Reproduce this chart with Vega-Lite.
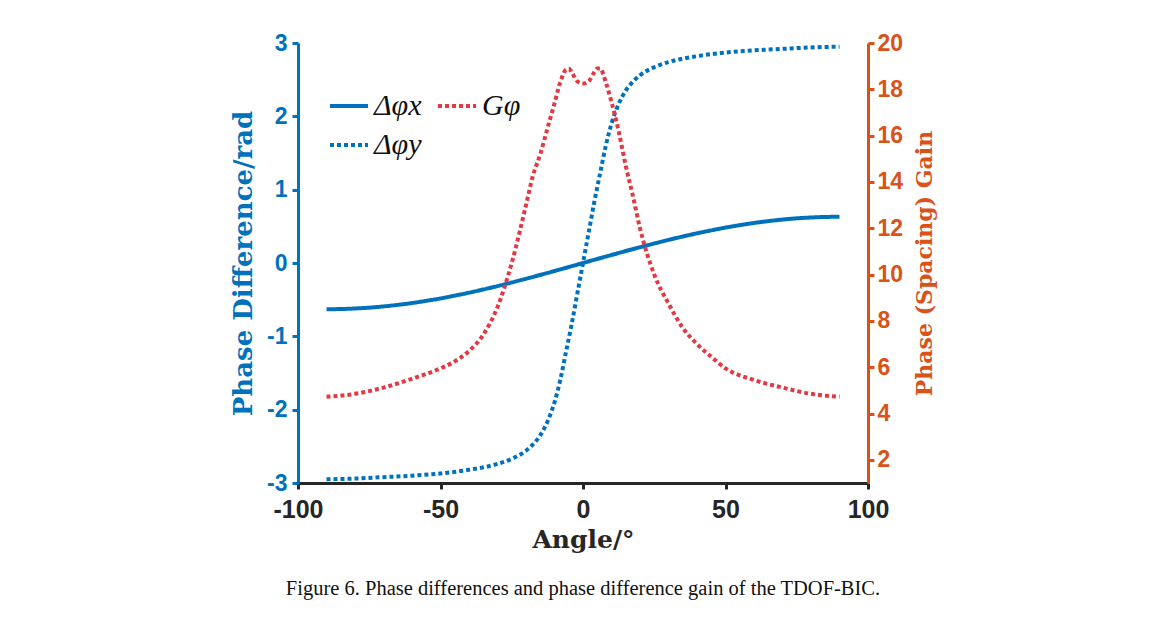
{
  "$schema": "https://vega.github.io/schema/vega-lite/v6.json",
  "width": 570,
  "height": 440,
  "autosize": {"type": "none"},
  "padding": {"left": 298, "top": 43, "right": 299, "bottom": 149},
  "background": "white",
  "title": {
    "text": "Figure 6. Phase differences and phase difference gain of the TDOF-BIC.",
    "orient": "bottom",
    "anchor": "middle",
    "font": "Liberation Serif",
    "fontSize": 20.5,
    "fontWeight": "normal",
    "color": "#111111",
    "offset": 27
  },
  "config": {
    "view": {"stroke": null},
    "axis": {"grid": false}
  },
  "data": {
    "values": [
      {"angle": -90, "series": "Δφx", "value": -0.63},
      {"angle": -85, "series": "Δφx", "value": -0.628},
      {"angle": -80, "series": "Δφx", "value": -0.62},
      {"angle": -75, "series": "Δφx", "value": -0.609},
      {"angle": -70, "series": "Δφx", "value": -0.592},
      {"angle": -65, "series": "Δφx", "value": -0.571},
      {"angle": -60, "series": "Δφx", "value": -0.546},
      {"angle": -55, "series": "Δφx", "value": -0.516},
      {"angle": -50, "series": "Δφx", "value": -0.483},
      {"angle": -45, "series": "Δφx", "value": -0.445},
      {"angle": -40, "series": "Δφx", "value": -0.405},
      {"angle": -35, "series": "Δφx", "value": -0.361},
      {"angle": -30, "series": "Δφx", "value": -0.315},
      {"angle": -25, "series": "Δφx", "value": -0.266},
      {"angle": -20, "series": "Δφx", "value": -0.215},
      {"angle": -15, "series": "Δφx", "value": -0.163},
      {"angle": -10, "series": "Δφx", "value": -0.109},
      {"angle": -5, "series": "Δφx", "value": -0.055},
      {"angle": 0, "series": "Δφx", "value": 0},
      {"angle": 5, "series": "Δφx", "value": 0.055},
      {"angle": 10, "series": "Δφx", "value": 0.109},
      {"angle": 15, "series": "Δφx", "value": 0.163},
      {"angle": 20, "series": "Δφx", "value": 0.215},
      {"angle": 25, "series": "Δφx", "value": 0.266},
      {"angle": 30, "series": "Δφx", "value": 0.315},
      {"angle": 35, "series": "Δφx", "value": 0.361},
      {"angle": 40, "series": "Δφx", "value": 0.405},
      {"angle": 45, "series": "Δφx", "value": 0.445},
      {"angle": 50, "series": "Δφx", "value": 0.483},
      {"angle": 55, "series": "Δφx", "value": 0.516},
      {"angle": 60, "series": "Δφx", "value": 0.546},
      {"angle": 65, "series": "Δφx", "value": 0.571},
      {"angle": 70, "series": "Δφx", "value": 0.592},
      {"angle": 75, "series": "Δφx", "value": 0.609},
      {"angle": 80, "series": "Δφx", "value": 0.62},
      {"angle": 85, "series": "Δφx", "value": 0.628},
      {"angle": 90, "series": "Δφx", "value": 0.63},

      {"angle": -90, "series": "Δφy", "value": -2.95},
      {"angle": -80, "series": "Δφy", "value": -2.94},
      {"angle": -70, "series": "Δφy", "value": -2.92},
      {"angle": -60, "series": "Δφy", "value": -2.9},
      {"angle": -50, "series": "Δφy", "value": -2.87},
      {"angle": -40, "series": "Δφy", "value": -2.82},
      {"angle": -30, "series": "Δφy", "value": -2.74},
      {"angle": -25, "series": "Δφy", "value": -2.67},
      {"angle": -20, "series": "Δφy", "value": -2.56},
      {"angle": -17, "series": "Δφy", "value": -2.45},
      {"angle": -15, "series": "Δφy", "value": -2.35},
      {"angle": -12, "series": "Δφy", "value": -2.12},
      {"angle": -10, "series": "Δφy", "value": -1.9},
      {"angle": -8, "series": "Δφy", "value": -1.6},
      {"angle": -6, "series": "Δφy", "value": -1.22},
      {"angle": -4, "series": "Δφy", "value": -0.84},
      {"angle": -2, "series": "Δφy", "value": -0.42},
      {"angle": 0, "series": "Δφy", "value": 0},
      {"angle": 2, "series": "Δφy", "value": 0.42},
      {"angle": 4, "series": "Δφy", "value": 0.84},
      {"angle": 6, "series": "Δφy", "value": 1.22},
      {"angle": 8, "series": "Δφy", "value": 1.6},
      {"angle": 10, "series": "Δφy", "value": 1.9},
      {"angle": 12, "series": "Δφy", "value": 2.12},
      {"angle": 15, "series": "Δφy", "value": 2.35},
      {"angle": 17, "series": "Δφy", "value": 2.45},
      {"angle": 20, "series": "Δφy", "value": 2.56},
      {"angle": 25, "series": "Δφy", "value": 2.67},
      {"angle": 30, "series": "Δφy", "value": 2.74},
      {"angle": 40, "series": "Δφy", "value": 2.82},
      {"angle": 50, "series": "Δφy", "value": 2.87},
      {"angle": 60, "series": "Δφy", "value": 2.9},
      {"angle": 70, "series": "Δφy", "value": 2.92},
      {"angle": 80, "series": "Δφy", "value": 2.94},
      {"angle": 90, "series": "Δφy", "value": 2.95},

      {"angle": -90, "series": "Gφ", "value": 4.72},
      {"angle": -80, "series": "Gφ", "value": 4.85},
      {"angle": -70, "series": "Gφ", "value": 5.12},
      {"angle": -60, "series": "Gφ", "value": 5.5},
      {"angle": -50, "series": "Gφ", "value": 5.95},
      {"angle": -45, "series": "Gφ", "value": 6.25},
      {"angle": -40, "series": "Gφ", "value": 6.7},
      {"angle": -35, "series": "Gφ", "value": 7.4},
      {"angle": -30, "series": "Gφ", "value": 8.6},
      {"angle": -25, "series": "Gφ", "value": 10.5},
      {"angle": -20, "series": "Gφ", "value": 13.0},
      {"angle": -17.5, "series": "Gφ", "value": 14.3},
      {"angle": -15, "series": "Gφ", "value": 15.2},
      {"angle": -12.5, "series": "Gφ", "value": 16.3},
      {"angle": -10, "series": "Gφ", "value": 17.4},
      {"angle": -8, "series": "Gφ", "value": 18.3},
      {"angle": -6, "series": "Gφ", "value": 18.85},
      {"angle": -5, "series": "Gφ", "value": 18.9},
      {"angle": -4, "series": "Gφ", "value": 18.75},
      {"angle": -2, "series": "Gφ", "value": 18.35},
      {"angle": 0, "series": "Gφ", "value": 18.25},
      {"angle": 2, "series": "Gφ", "value": 18.35},
      {"angle": 4, "series": "Gφ", "value": 18.75},
      {"angle": 5, "series": "Gφ", "value": 18.9},
      {"angle": 6, "series": "Gφ", "value": 18.9},
      {"angle": 8, "series": "Gφ", "value": 18.3},
      {"angle": 10, "series": "Gφ", "value": 17.45},
      {"angle": 12.5, "series": "Gφ", "value": 16.2},
      {"angle": 15, "series": "Gφ", "value": 14.7},
      {"angle": 17.5, "series": "Gφ", "value": 13.4},
      {"angle": 20, "series": "Gφ", "value": 12.0},
      {"angle": 25, "series": "Gφ", "value": 10.0},
      {"angle": 30, "series": "Gφ", "value": 8.75},
      {"angle": 35, "series": "Gφ", "value": 7.7},
      {"angle": 40, "series": "Gφ", "value": 7.0},
      {"angle": 45, "series": "Gφ", "value": 6.45},
      {"angle": 50, "series": "Gφ", "value": 5.95},
      {"angle": 60, "series": "Gφ", "value": 5.45},
      {"angle": 70, "series": "Gφ", "value": 5.12},
      {"angle": 80, "series": "Gφ", "value": 4.85},
      {"angle": 90, "series": "Gφ", "value": 4.72}
    ]
  },
  "encoding": {
    "x": {
      "field": "angle",
      "type": "quantitative",
      "scale": {"domain": [-100, 100], "nice": false, "zero": false},
      "axis": {
        "title": "Angle/°",
        "values": [-100, -50, 0, 50, 100],
        "labelExpr": "'' + datum.value",
        "domainColor": "#262626",
        "domainWidth": 3,
        "tickColor": "#262626",
        "tickWidth": 3,
        "tickSize": 6,
        "labelFont": "Liberation Sans",
        "labelFontWeight": "bold",
        "labelFontSize": 25,
        "labelColor": "#262626",
        "labelPadding": 8,
        "labelFlush": false,
        "titleFont": "DejaVu Serif",
        "titleFontWeight": "bold",
        "titleFontSize": 25,
        "titleColor": "#262626",
        "titlePadding": 5
      }
    },
    "color": {
      "field": "series",
      "type": "nominal",
      "scale": {"domain": ["Δφx", "Gφ", "Δφy"], "range": ["#0072BD", "#E23A44", "#0072BD"]},
      "legend": {
        "title": null,
        "orient": "none",
        "direction": "horizontal",
        "legendX": 30,
        "legendY": 42,
        "values": ["Δφx", "Gφ", "Δφy"],
        "columns": 2,
        "columnPadding": 8,
        "rowPadding": 3,
        "symbolType": "stroke",
        "symbolSize": 1444,
        "symbolStrokeWidth": 4,
        "symbolOffset": 0,
        "labelFont": "Liberation Serif",
        "labelFontStyle": "italic",
        "labelFontSize": 30,
        "labelColor": "#111111",
        "labelOffset": 4,
        "labelLimit": 200
      }
    },
    "strokeDash": {
      "field": "series",
      "type": "nominal",
      "scale": {"domain": ["Δφx", "Gφ", "Δφy"], "range": [[1, 0], [4, 3], [4, 3]]},
      "legend": {
        "title": null,
        "orient": "none",
        "direction": "horizontal",
        "legendX": 30,
        "legendY": 42,
        "values": ["Δφx", "Gφ", "Δφy"],
        "columns": 2
      }
    }
  },
  "layer": [
    {
      "transform": [{"filter": "datum.series !== 'Gφ'"}],
      "mark": {"type": "line", "strokeWidth": 4, "interpolate": "monotone", "strokeCap": "butt"},
      "encoding": {
        "y": {
          "field": "value",
          "type": "quantitative",
          "scale": {"domain": [-3, 3], "nice": false, "zero": false},
          "axis": {
            "title": "Phase Difference/rad",
            "orient": "left",
            "values": [-3, -2, -1, 0, 1, 2, 3],
            "labelExpr": "'' + datum.value",
            "domainColor": "#0072BD",
            "domainWidth": 3,
            "tickColor": "#0072BD",
            "tickWidth": 3,
            "tickSize": 6,
            "labelFont": "Liberation Sans",
            "labelFontWeight": "bold",
            "labelFontSize": 23,
            "labelColor": "#0072BD",
            "labelPadding": 5,
            "labelFlush": false,
            "titleFont": "DejaVu Serif",
            "titleFontWeight": "bold",
            "titleFontSize": 26,
            "titleColor": "#0072BD",
            "titlePadding": 10
          }
        },
        "detail": {"field": "series"}
      }
    },
    {
      "transform": [{"filter": "datum.series === 'Gφ'"}],
      "mark": {"type": "line", "strokeWidth": 4, "interpolate": "monotone", "strokeCap": "butt"},
      "encoding": {
        "y": {
          "field": "value",
          "type": "quantitative",
          "scale": {"domain": [1, 20], "nice": false, "zero": false},
          "axis": {
            "title": "Phase (Spacing) Gain",
            "orient": "right",
            "values": [2, 4, 6, 8, 10, 12, 14, 16, 18, 20],
            "domainColor": "#D95319",
            "domainWidth": 3,
            "tickColor": "#D95319",
            "tickWidth": 3,
            "tickSize": 6,
            "labelFont": "Liberation Sans",
            "labelFontWeight": "bold",
            "labelFontSize": 23,
            "labelColor": "#D95319",
            "labelPadding": 3,
            "labelFlush": false,
            "titleFont": "DejaVu Serif",
            "titleFontWeight": "bold",
            "titleFontSize": 22,
            "titleColor": "#D95319",
            "titleAngle": 270,
            "titleBaseline": "top",
            "titlePadding": 12
          }
        }
      }
    }
  ],
  "resolve": {"scale": {"y": "independent"}}
}
